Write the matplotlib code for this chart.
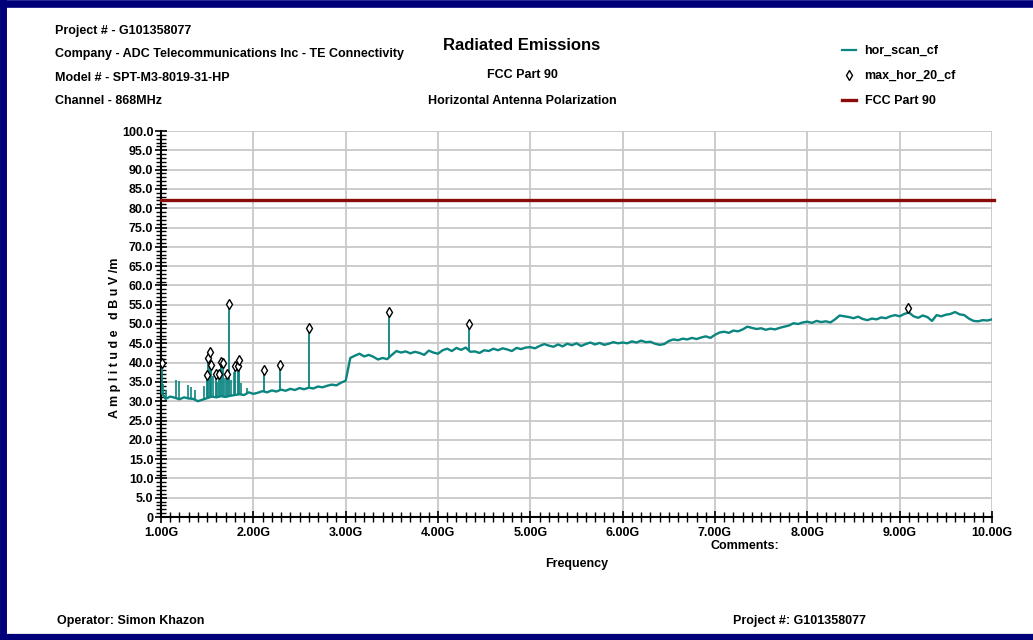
import numpy as np
import matplotlib
matplotlib.use("Agg")
import matplotlib.pyplot as plt
from matplotlib.lines import Line2D
from matplotlib.ticker import MultipleLocator
from matplotlib import font_manager

installed = {f.name for f in font_manager.fontManager.ttflist}
family = [n for n in ["Liberation Sans Narrow", "Liberation Sans"] if n in installed]
plt.rcParams['font.family'] = family + ['DejaVu Sans']
plt.rcParams['font.weight'] = 'bold'

# hor_scan_cf trace, every 0.05 GHz from 1.00 to 10.00 GHz
scan_amp = [
    32.5, 30.6, 31.2, 30.9, 30.5, 31.0, 30.7, 30.6, 30.0, 30.4,
    30.8, 31.2, 31.0, 31.3, 31.1, 31.4, 31.6, 31.8, 31.6, 32.3, 31.9,
    32.2, 32.6, 32.3, 32.8, 32.5, 33.0, 32.7, 33.2, 32.9, 33.4,
    33.1, 33.5, 33.3, 33.8, 33.6, 34.0, 34.3, 34.1, 34.8, 35.3,
    41.2, 41.8, 42.3, 41.6, 42.0, 41.5, 40.8, 41.2, 40.9, 42.0,
    43.0, 42.6, 42.9, 42.4, 42.8, 42.5, 42.0, 43.1, 42.6, 42.3,
    43.2, 43.6, 43.0, 43.8, 43.3, 43.9, 42.8, 42.9, 42.5, 43.2,
    43.0, 43.6, 43.2, 43.7, 43.4, 43.0, 43.8, 43.5, 43.9, 44.0,
    43.7, 44.3, 44.8, 44.4, 44.1, 44.7, 44.2, 44.9, 44.5, 45.0,
    44.3, 44.8, 45.2, 44.7, 45.1, 44.6, 44.9, 45.3, 45.0, 45.2,
    45.0, 45.5, 45.2, 45.7, 45.3, 45.4, 44.9, 44.6, 44.8, 45.6,
    46.0, 45.8, 46.2, 46.0, 46.4, 46.1, 46.5, 46.8, 46.4, 47.2,
    47.8, 48.0, 47.7, 48.3, 48.1, 48.6, 49.3, 49.0, 48.7, 48.9,
    48.5, 48.8, 48.6, 49.0, 49.3, 49.6, 50.2, 50.0, 50.4, 50.6,
    50.3, 50.8, 50.5, 50.7, 50.4, 51.2, 52.2, 52.0, 51.8, 51.5,
    51.9, 51.3, 51.0, 51.4, 51.2, 51.7, 51.5, 52.0, 52.3, 52.0,
    52.6, 53.0, 52.0, 51.6, 52.2, 51.8, 50.8, 52.3, 52.0, 52.4,
    52.6, 53.1, 52.5, 52.3, 51.4, 50.8, 50.7, 51.0, 50.9, 51.2,
]
scan_freq = np.linspace(1.0, 10.0, len(scan_amp))

# narrow unmarked spikes on the trace below 2 GHz
spike_freq = [1.02, 1.05, 1.16, 1.19, 1.29, 1.33, 1.37, 1.47, 1.56, 1.61, 1.69,
              1.76, 1.79, 1.87, 1.93]
spike_amp = [34.5, 33.0, 35.5, 35.3, 34.2, 33.8, 33.0, 34.0, 36.5, 35.0, 36.0,
             35.5, 37.5, 34.8, 33.5]

# max_hor_20_cf peaks (GHz, dBuV/m)
peak_freq = [1.007, 1.494, 1.511, 1.533, 1.544, 1.598, 1.628, 1.650, 1.674, 1.715,
             1.736, 1.801, 1.834, 1.850, 2.115, 2.289, 2.603, 3.47, 4.34, 9.09]
peak_amp = [40.0, 36.9, 41.2, 42.7, 39.3, 37.0, 37.0, 40.2, 39.8, 37.1,
            55.2, 39.1, 39.1, 40.8, 38.1, 39.4, 49.0, 53.0, 50.0, 54.1]

limit_level = 82.2
x_ticks = [1, 2, 3, 4, 5, 6, 7, 8, 9, 10]
x_labels = ["1.00G", "2.00G", "3.00G", "4.00G", "5.00G",
            "6.00G", "7.00G", "8.00G", "9.00G", "10.00G"]
y_ticks = list(range(0, 101, 5))
y_labels = ["0"] + ["%.1f" % v for v in y_ticks[1:]]

teal = "#0a8580"
maroon = "#8b0a0a"
fs = 9

fig = plt.figure(figsize=(10.33, 6.4), dpi=100)
ax = fig.add_axes([161 / 1033, 1 - 517 / 640, (992 - 161) / 1033, (517 - 131) / 640])

ax.grid(True, color="#c8c8c8", linewidth=1.3)
ax.set_axisbelow(True)

ax.vlines(spike_freq, np.interp(spike_freq, scan_freq, scan_amp), spike_amp,
          color=teal, linewidth=1.2, zorder=3)
base = np.interp(peak_freq, scan_freq, scan_amp)
ax.vlines(peak_freq, base, peak_amp, color=teal, linewidth=1.3, zorder=3)
scan_line, = ax.plot(scan_freq, scan_amp, color=teal, linewidth=1.7, zorder=3)
peak_pts, = ax.plot(peak_freq, peak_amp, linestyle="none", marker="d", markersize=5,
                    markerfacecolor="white", markeredgecolor="black",
                    markeredgewidth=1.0, zorder=4)
ax.axhline(limit_level, color=maroon, linewidth=2.4, zorder=3, clip_on=False, xmax=1.002)

ax.set_xlim(1, 10)
ax.set_ylim(0, 100)
ax.set_xticks(x_ticks)
ax.set_xticklabels(x_labels)
ax.set_yticks(y_ticks)
ax.set_yticklabels(y_labels)
ax.xaxis.set_minor_locator(MultipleLocator(0.1))
ax.yaxis.set_minor_locator(MultipleLocator(1))
ax.tick_params(which="major", direction="inout", length=9, width=1.2, labelsize=fs, pad=3)
ax.tick_params(which="minor", direction="inout", length=7, width=1.0)
ax.tick_params(axis="y", pad=1)
for s in ["top", "right"]:
    ax.spines[s].set_visible(False)
for s in ["left", "bottom"]:
    ax.spines[s].set_linewidth(1.5)

# header
hdr = ["Project # - G101358077",
       "Company - ADC Telecommunications Inc - TE Connectivity",
       "Model # - SPT-M3-8019-31-HP",
       "Channel - 868MHz"]
for i, t in enumerate(hdr):
    fig.text(55 / 1033, 1 - (31 + i * 23.5) / 640, t, fontsize=fs, va="center", ha="left")

fig.text(522 / 1033, 1 - 46 / 640, "Radiated Emissions", fontsize=12, ha="center", va="center")
fig.text(522 / 1033, 1 - 75 / 640, "FCC Part 90", fontsize=fs, ha="center", va="center")
fig.text(522 / 1033, 1 - 101 / 640, "Horizontal Antenna Polarization", fontsize=fs,
         ha="center", va="center")

fig.legend([Line2D([], [], color=teal, linewidth=1.6), peak_pts,
            Line2D([], [], color=maroon, linewidth=2.4)],
           ["hor_scan_cf", "max_hor_20_cf", "FCC Part 90"],
           loc="upper left", bbox_to_anchor=(842 / 1033, 1 - 45 / 640), frameon=False,
           handlelength=1.1, handletextpad=0.7, labelspacing=1.05, fontsize=fs,
           borderpad=0, borderaxespad=0)

fig.text(115 / 1033, 1 - 338 / 640, "A m p l i t u d e   d B u V /m", rotation=90,
         fontsize=fs, ha="center", va="center")
fig.text(577 / 1033, 1 - 564 / 640, "Frequency", fontsize=fs, ha="center", va="center")
fig.text(745 / 1033, 1 - 546 / 640, "Comments:", fontsize=fs, ha="center", va="center")
fig.text(57 / 1033, 1 - 621 / 640, "Operator: Simon Khazon", fontsize=fs, ha="left", va="center")
fig.text(733 / 1033, 1 - 621 / 640, "Project #: G101358077", fontsize=fs, ha="left", va="center")

# navy frame around the page
navy = "#00007a"
fig.add_artist(Line2D([0, 1], [1 - 3.5 / 640, 1 - 3.5 / 640], color=navy, linewidth=5.5,
                      transform=fig.transFigure))
fig.add_artist(Line2D([3 / 1033, 3 / 1033], [0, 1], color=navy, linewidth=5,
                      transform=fig.transFigure))
fig.add_artist(Line2D([0, 1], [3 / 640, 3 / 640], color=navy, linewidth=4.5,
                      transform=fig.transFigure))

fig.savefig("out.png", dpi=100)
